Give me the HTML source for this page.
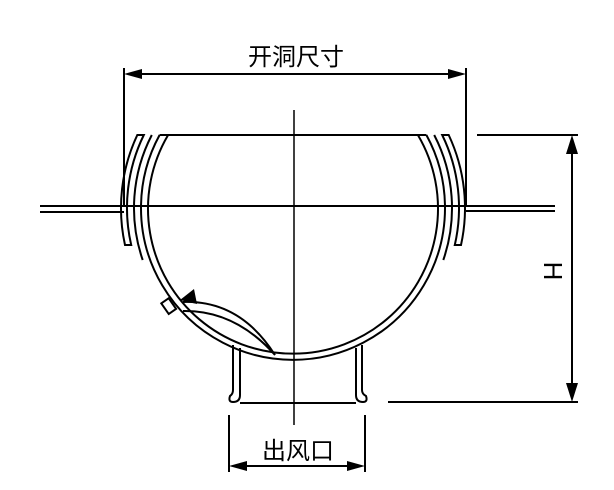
<!DOCTYPE html>
<html><head><style>html,body{margin:0;padding:0;background:#fff}svg{display:block}</style></head>
<body>
<svg width="614" height="490" viewBox="0 0 614 490" xmlns="http://www.w3.org/2000/svg" fill="none" stroke="#000" stroke-width="2">
<!-- top dimension -->
<line x1="124" y1="68" x2="124" y2="207"/>
<line x1="466" y1="68" x2="466" y2="207"/>
<line x1="136" y1="74" x2="454" y2="74"/>
<polygon points="124,74 142,69 142,79" fill="#000" stroke="none"/>
<polygon points="466,74 448,69 448,79" fill="#000" stroke="none"/>
<text x="296" y="65" font-family="Liberation Sans,'Noto Sans CJK SC',sans-serif" font-size="24" text-anchor="middle" fill="#000" stroke="none">开洞尺寸</text>
<!-- wall lines -->
<line x1="40" y1="206" x2="555" y2="206"/>
<line x1="40" y1="212" x2="124" y2="212"/>
<line x1="466" y1="211" x2="555" y2="211"/>
<!-- centerline -->
<line x1="294" y1="110" x2="294" y2="425" stroke-width="1.5"/>
<!-- bowl -->
<line x1="159.6" y1="135" x2="426.4" y2="135"/>
<path d="M159.6,135 A152,152 0 1 0 426.4,135"/>
<path d="M168.1,135 A145,145 0 1 0 417.9,135"/>
<!-- flanges left -->
<path d="M137.3,135 A172,172 0 0 0 125,245 L131.2,245 A166,166 0 0 1 143.8,135 Z"/>
<path d="M151.8,135 A159,159 0 0 0 142.7,260"/>
<!-- flanges right -->
<path d="M448.7,135 A172,172 0 0 1 461,245 L454.8,245 A166,166 0 0 0 442.2,135 Z"/>
<path d="M434.2,135 A159,159 0 0 1 443.3,260"/>
<!-- damper -->
<path d="M183,302 Q240,300 275,355 Q235,310 183,311"/>
<polygon points="180,300 194,289 197,304" fill="#000" stroke="none"/>
<rect x="164" y="300" width="9" height="13" transform="rotate(-35 168 306)"/>
<!-- outlet -->
<path d="M240,348 L240,395 Q240,402 233,402 Q228,402 230,396 Q233,394 233,390 L233,345"/>
<path d="M356,348 L356,395 Q356,402 363,402 Q368,402 366,396 Q362,394 362,390 L362,345"/>
<line x1="240" y1="403" x2="356" y2="403"/>
<line x1="229" y1="415" x2="229" y2="472"/>
<line x1="365" y1="415" x2="365" y2="472"/>
<line x1="240" y1="466" x2="354" y2="466"/>
<polygon points="229,466 247,461 247,471" fill="#000" stroke="none"/>
<polygon points="365,466 347,461 347,471" fill="#000" stroke="none"/>
<text x="298" y="459" font-family="Liberation Sans,'Noto Sans CJK SC',sans-serif" font-size="24" text-anchor="middle" fill="#000" stroke="none">出风口</text>
<!-- H dimension -->
<line x1="477" y1="135" x2="578" y2="135"/>
<line x1="388" y1="402" x2="578" y2="402"/>
<line x1="572" y1="150" x2="572" y2="388"/>
<polygon points="572,135 566,154 578,154" fill="#000" stroke="none"/>
<polygon points="572,402 566,383 578,383" fill="#000" stroke="none"/>
<text x="0" y="0" transform="translate(544,271) rotate(90)" font-family="Liberation Sans,sans-serif" font-size="26" text-anchor="middle" fill="#000" stroke="none">H</text>
</svg>
</body></html>
